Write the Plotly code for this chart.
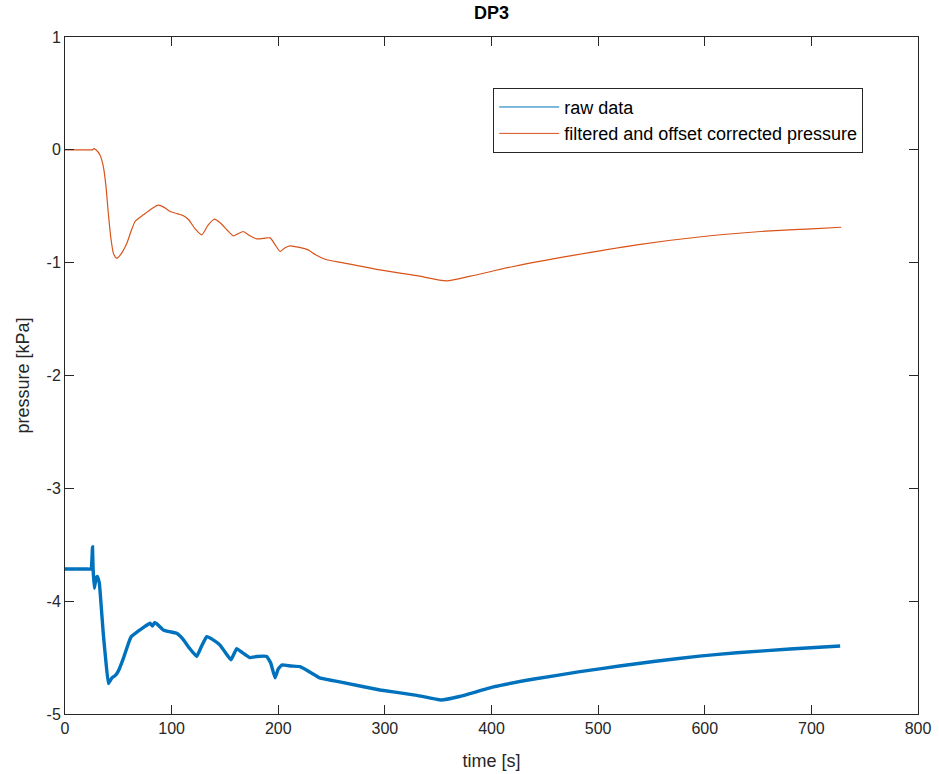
import plotly.graph_objects as go

# time [s] and pressure [kPa]
t_raw = [0, 10, 20, 24.5, 25.3, 25.8, 26.3, 27.5, 29, 30.3, 32.2, 34, 36, 38, 40.7,
         44, 47, 50, 55, 60, 62.5, 68, 74, 79.7, 82, 84, 86, 92.2, 98, 104.8, 110,
         117, 123.5, 128, 132.9, 140, 145.4, 150, 155.7, 161, 167, 173.5, 180, 189.2,
         193, 197, 200, 203.3, 212, 220.5, 230, 239, 260, 295.5, 330, 352.7, 370,
         401.8, 440, 483, 520, 552, 595, 630, 680, 727]
p_raw = [-3.715, -3.715, -3.715, -3.715, -3.62, -3.52, -3.70, -3.886, -3.80, -3.78,
         -3.84, -4.05, -4.30, -4.50, -4.73, -4.68, -4.66, -4.62, -4.50, -4.36, -4.31,
         -4.27, -4.23, -4.195, -4.22, -4.19, -4.20, -4.255, -4.27, -4.285, -4.33,
         -4.42, -4.49, -4.40, -4.315, -4.35, -4.39, -4.45, -4.52, -4.42, -4.46, -4.50,
         -4.49, -4.49, -4.55, -4.68, -4.60, -4.566, -4.575, -4.58, -4.63, -4.68,
         -4.72, -4.787, -4.835, -4.876, -4.845, -4.76, -4.69, -4.625, -4.575, -4.535,
         -4.487, -4.457, -4.424, -4.398]

t_filt = [0, 10, 20, 26, 27, 29, 32.8, 36, 38.5, 40.6, 43, 45.5, 48.5, 52, 57.9, 62,
          65.7, 70, 73.5, 80, 87.5, 93, 98.5, 105, 111, 116, 122, 128.2, 134, 139.8,
          146, 152, 157.9, 162, 167.3, 173, 179.8, 186, 192.3, 197, 201.7, 206, 211,
          220, 228, 235, 244, 260, 295.5, 330, 358, 380, 420.5, 473.7, 536.3, 598.8,
          661.3, 700, 728]
p_filt = [0, 0, 0, 0, 0.01, 0, -0.045, -0.15, -0.33, -0.56, -0.78, -0.92, -0.96, -0.93,
          -0.83, -0.72, -0.635, -0.60, -0.576, -0.53, -0.49, -0.51, -0.547, -0.565,
          -0.584, -0.62, -0.70, -0.753, -0.67, -0.615, -0.65, -0.71, -0.762, -0.745,
          -0.724, -0.76, -0.789, -0.785, -0.78, -0.84, -0.90, -0.87, -0.851, -0.865,
          -0.887, -0.93, -0.97, -1.0, -1.064, -1.115, -1.161, -1.12, -1.034, -0.94,
          -0.842, -0.768, -0.718, -0.70, -0.686]

x_ticks = [0, 100, 200, 300, 400, 500, 600, 700, 800]
y_ticks = [-5, -4, -3, -2, -1, 0, 1]
y_ticktext = ["-5", "-4", "-3", "-2", "-1", "0", "1"]

FONT = "Liberation Sans, Arial, Helvetica, sans-serif"
AX = "#262626"
BLUE = "#0072BD"
ORANGE = "#D95319"

fig = go.Figure()
fig.add_trace(go.Scatter(x=t_raw, y=p_raw, mode="lines", name="raw data",
                         showlegend=False, legendgroup="raw",
                         line=dict(color=BLUE, width=3.4, shape="spline", smoothing=0.3)))
fig.add_trace(go.Scatter(x=t_filt, y=p_filt, mode="lines",
                         name="filtered and offset corrected pressure",
                         showlegend=False, legendgroup="filt",
                         line=dict(color=ORANGE, width=1.2, shape="spline", smoothing=0.6)))
# legend-only entries with thin sample lines
fig.add_trace(go.Scatter(x=[None], y=[None], mode="lines", name="raw data",
                         legendgroup="raw", line=dict(color=BLUE, width=1)))
fig.add_trace(go.Scatter(x=[None], y=[None], mode="lines",
                         name="filtered and offset corrected pressure",
                         legendgroup="filt", line=dict(color=ORANGE, width=1)))

axis_common = dict(showgrid=False, zeroline=False, showline=True, linecolor=AX,
                   linewidth=1, mirror="allticks", ticks="inside", ticklen=9,
                   tickcolor=AX, tickwidth=1, automargin=False,
                   tickfont=dict(family=FONT, size=16, color=AX))

fig.update_layout(
    width=939, height=774,
    margin=dict(l=65, r=21, t=37, b=60),
    paper_bgcolor="white", plot_bgcolor="white",
    font=dict(family=FONT, color=AX),
    title=dict(text="<b>DP3</b>", x=0.5, xref="paper", y=1 - 13 / 774,
               yanchor="middle", font=dict(family=FONT, size=18, color="black")),
    xaxis=dict(range=[0, 800], tickvals=x_ticks,
               title=dict(text="time [s]", font=dict(family=FONT, size=18, color=AX),
                          standoff=18),
               **axis_common),
    yaxis=dict(range=[-5, 1], tickvals=y_ticks, ticktext=y_ticktext,
               title=dict(text="pressure [kPa]", font=dict(family=FONT, size=18, color=AX),
                          standoff=12),
               **axis_common),
    legend=dict(x=0.502, y=0.925, xanchor="left", yanchor="top",
                bgcolor="white", bordercolor=AX, borderwidth=1,
                font=dict(family=FONT, size=18, color="black"),
                tracegroupgap=0, itemwidth=60),
    showlegend=True,
)

fig.write_html("out.html")
